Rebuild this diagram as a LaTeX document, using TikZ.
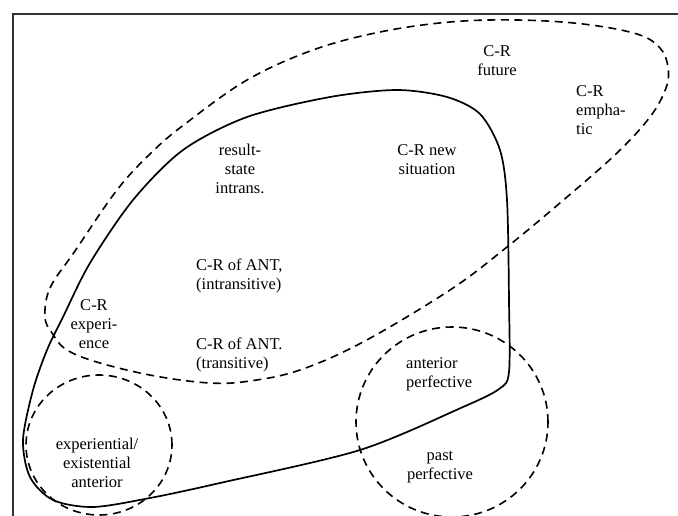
\documentclass[tikz,border=0pt]{standalone}
\usepackage{fontspec}
\setmainfont{Liberation Serif}

\begin{document}
\begin{tikzpicture}[x=1pt, y=-1pt,
    txt/.style={font=\fontsize{16.5}{19}\selectfont, align=center, inner sep=0pt},
    solidreg/.style={line width=1.7pt},
    dashreg/.style={line width=1.6pt, dash pattern=on 8pt off 5.5pt}]
    \path[use as bounding box] (0,0) rectangle (678,516);
    \clip (0,0) rectangle (678,516);

    % frame
    \draw[line width=1.4pt, black!80] (13,14) rectangle (720,560);

    % C-R area (dashed)
    \draw[dashreg] plot[smooth cycle, tension=0.6] coordinates {
        (45,317) (50,288) (75,251) (117,190) (152,152) (185,124) (247,80)
        (313,50) (380,32) (450,22) (517,20) (583,24) (637,34) (660,48)
        (668,67) (666,88) (650,117) (617,153) (567,197) (507,247) (450,290)
        (363,342) (300,370) (250,381) (210,383) (155,376) (100,363) (67,350)
        (52,333)};

    % anterior area (solid)
    \draw[solidreg] plot[smooth cycle, tension=0.5] coordinates {
        (183,150) (247,117) (330,97) (397,90) (447,97) (480,114) (500,150)
        (507,200) (509,300) (509,372) (499,389) (463,407) (360,450) (220,483)
        (150,498) (93,507) (53,500) (30,477) (23,440) (33,390) (47,350)
        (63,317) (90,263) (133,200)};

    % experiential and perfective areas
    \draw[dashreg] (99,445) ellipse (73pt and 70pt);
    \draw[dashreg] (452,422) ellipse (96pt and 95pt);

    % labels
    \node[txt] (future) at (497,61) {C-R\\future};
    \node[txt, align=left, anchor=west] (emphatic) at (576,110) {C-R\\empha-\\tic};
    \node[txt] (result) at (240,169) {result-\\state\\intrans.};
    \node[txt] (newsit) at (427,160) {C-R new\\situation};
    \node[txt, align=left, anchor=west] (antintr) at (196,276) {C-R of ANT,\\(intransitive)};
    \node[txt, align=left, anchor=west] (anttr) at (196,355) {C-R of ANT.\\(transitive)};
    \node[txt] (experience) at (94,324) {C-R\\experi-\\ence};
    \node[txt, align=left, anchor=west] (antperf) at (406,374) {anterior\\perfective};
    \node[txt] (pastperf) at (440,467) {past\\perfective};
    \node[txt] (experient) at (97,463) {experiential/\\existential\\anterior};
\end{tikzpicture}
\end{document}
